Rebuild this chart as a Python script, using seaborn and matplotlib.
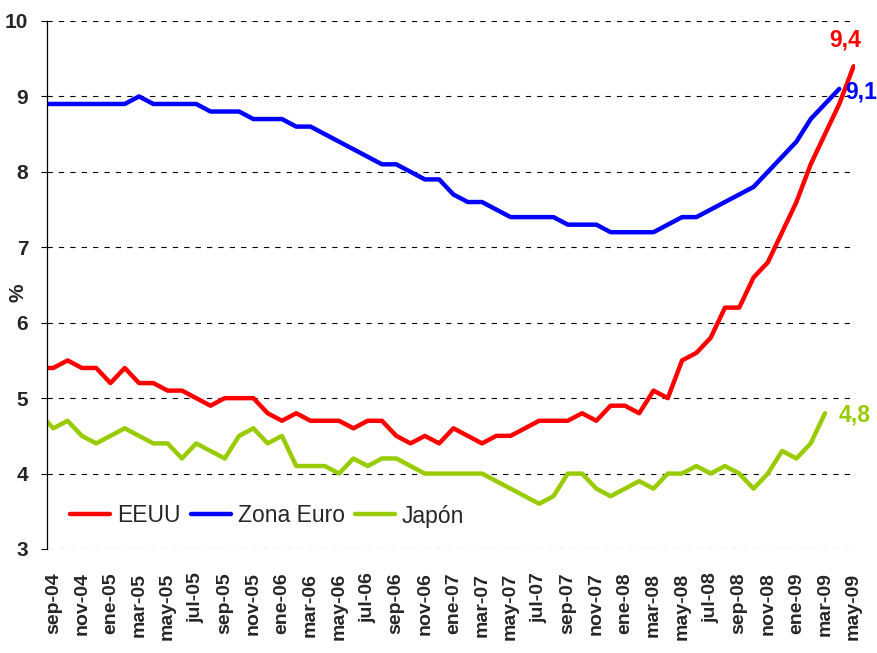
import numpy as np
import pandas as pd
import matplotlib
matplotlib.use("Agg")
import matplotlib.pyplot as plt
import seaborn as sns

# ---------------- data ----------------
months = ["ago-04", "sep-04", "oct-04", "nov-04", "dic-04",
          "ene-05", "feb-05", "mar-05", "abr-05", "may-05", "jun-05", "jul-05", "ago-05", "sep-05", "oct-05", "nov-05", "dic-05",
          "ene-06", "feb-06", "mar-06", "abr-06", "may-06", "jun-06", "jul-06", "ago-06", "sep-06", "oct-06", "nov-06", "dic-06",
          "ene-07", "feb-07", "mar-07", "abr-07", "may-07", "jun-07", "jul-07", "ago-07", "sep-07", "oct-07", "nov-07", "dic-07",
          "ene-08", "feb-08", "mar-08", "abr-08", "may-08", "jun-08", "jul-08", "ago-08", "sep-08", "oct-08", "nov-08", "dic-08",
          "ene-09", "feb-09", "mar-09", "abr-09", "may-09"]

eeuu = [5.4, 5.4, 5.5, 5.4, 5.4,
        5.2, 5.4, 5.2, 5.2, 5.1, 5.1, 5.0, 4.9, 5.0, 5.0, 5.0, 4.8,
        4.7, 4.8, 4.7, 4.7, 4.7, 4.6, 4.7, 4.7, 4.5, 4.4, 4.5, 4.4,
        4.6, 4.5, 4.4, 4.5, 4.5, 4.6, 4.7, 4.7, 4.7, 4.8, 4.7, 4.9,
        4.9, 4.8, 5.1, 5.0, 5.5, 5.6, 5.8, 6.2, 6.2, 6.6, 6.8, 7.2,
        7.6, 8.1, 8.5, 8.9, 9.4]

zona_euro = [8.9, 8.9, 8.9, 8.9, 8.9,
             8.9, 8.9, 9.0, 8.9, 8.9, 8.9, 8.9, 8.8, 8.8, 8.8, 8.7, 8.7,
             8.7, 8.6, 8.6, 8.5, 8.4, 8.3, 8.2, 8.1, 8.1, 8.0, 7.9, 7.9,
             7.7, 7.6, 7.6, 7.5, 7.4, 7.4, 7.4, 7.4, 7.3, 7.3, 7.3, 7.2,
             7.2, 7.2, 7.2, 7.3, 7.4, 7.4, 7.5, 7.6, 7.7, 7.8, 8.0, 8.2,
             8.4, 8.7, 8.9, 9.1, np.nan]

japon = [4.8, 4.6, 4.7, 4.5, 4.4,
         4.5, 4.6, 4.5, 4.4, 4.4, 4.2, 4.4, 4.3, 4.2, 4.5, 4.6, 4.4,
         4.5, 4.1, 4.1, 4.1, 4.0, 4.2, 4.1, 4.2, 4.2, 4.1, 4.0, 4.0,
         4.0, 4.0, 4.0, 3.9, 3.8, 3.7, 3.6, 3.7, 4.0, 4.0, 3.8, 3.7,
         3.8, 3.9, 3.8, 4.0, 4.0, 4.1, 4.0, 4.1, 4.0, 3.8, 4.0, 4.3,
         4.2, 4.4, 4.8, np.nan, np.nan]

series_names = ["EEUU", "Zona Euro", "Japón"]
series_colors = ["#FF0000", "#0000FF", "#99CC00"]
end_labels = ["9,4", "9,1", "4,8"]
y_ticks = [3, 4, 5, 6, 7, 8, 9, 10]

# ---------------- fonts ----------------
sns.set_style("white")
plt.rcParams["font.family"] = ["Liberation Sans", "DejaVu Sans"]
plt.rcParams["lines.scale_dashes"] = False

# ---------------- frame ----------------
df = pd.DataFrame({"idx": np.arange(len(months)), "EEUU": eeuu,
                   "Zona Euro": zona_euro, "Japón": japon})
long = df.melt(id_vars="idx", var_name="serie", value_name="valor").dropna()

fig = plt.figure(figsize=(8.78, 6.53), dpi=100)
ax = fig.add_axes([47 / 878, 1 - 549 / 653, (855 - 47) / 878, (549 - 21) / 653])

sns.lineplot(data=long, x="idx", y="valor", hue="serie", hue_order=series_names,
             palette=series_colors, linewidth=3.2, ax=ax, legend=True)

ax.set_xlim(0.56, 57.1)
ax.set_ylim(3, 10)
ax.set_yticks(y_ticks)
ax.set_yticklabels([str(v) for v in y_ticks], fontsize=15, fontweight="bold")
tick_idx = list(range(1, len(months), 2))
ax.set_xticks(tick_idx)
ax.set_xticklabels([months[i] for i in tick_idx], rotation=90, fontsize=14,
                   fontweight="bold")
ax.tick_params(axis="x", length=0, pad=17)
ax.tick_params(axis="y", length=4.5, width=0.8, color="black", pad=9, direction="out", left=True)
ax.set_xlabel("")
ax.set_ylabel("")

for s in ["top", "right", "bottom"]:
    ax.spines[s].set_visible(False)
ax.spines["left"].set_color("black")
ax.spines["left"].set_linewidth(0.9)

ax.yaxis.grid(True, color="black", linestyle=(0, (3.8, 4.4)), linewidth=0.8)
ax.xaxis.grid(False)
ax.set_axisbelow(True)

fig.text(18 / 878, 1 - 293 / 653, "%", rotation=90, ha="center", va="center",
         fontsize=15, fontweight="bold")

# end labels
label_pos = [(56.4, 9.75), (57.55, 9.06), (57.05, 4.78)]
for (x, y), txt, col in zip(label_pos, end_labels, series_colors):
    ax.text(x, y, txt, color=col, fontsize=16.5, fontweight="bold", ha="center",
            va="center", clip_on=False)

handles, labels = ax.get_legend_handles_labels()
leg = ax.legend(handles, labels, loc="center left", ncol=3, frameon=False,
                bbox_to_anchor=(70 / 878, 1 - 516 / 653), bbox_transform=fig.transFigure,
                borderaxespad=0, borderpad=0, handlelength=1.75, handletextpad=0.3,
                columnspacing=0.45, fontsize=16.5)
for lh in leg.get_lines():
    lh.set_linewidth(3.2)

fig.savefig("out.png", dpi=100)
